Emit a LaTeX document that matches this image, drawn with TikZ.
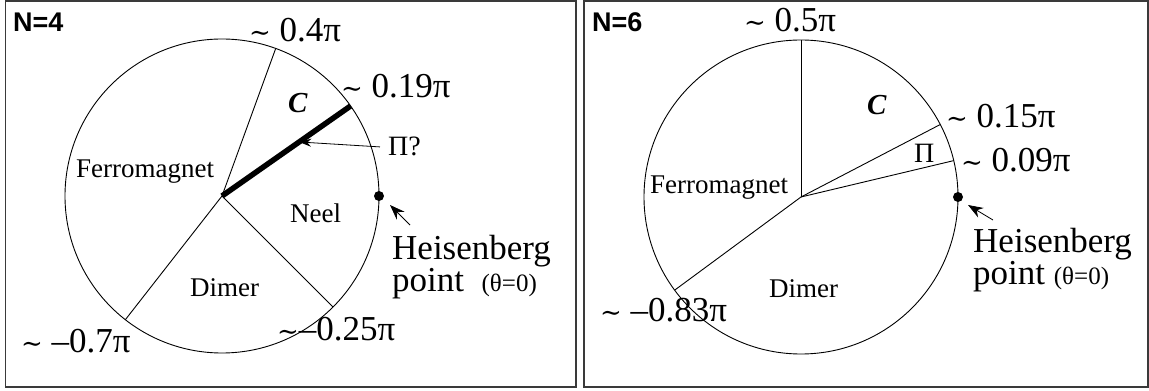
\documentclass[tikz,border=0pt]{standalone}
\usepackage{fontspec}
\setmainfont{Liberation Serif}
\newfontfamily\helvfont{Liberation Sans}
\newfontfamily\tildefont{DejaVu Serif}
\usetikzlibrary{arrows.meta, positioning, calc}
\definecolor{FrameGray}{HTML}{3A3A3A}

\tikzset{
  phaselbl/.style={font=\fontsize{27}{30}\selectfont, inner sep=0pt, anchor=base west},
  anglbl/.style={font=\fontsize{35}{38}\selectfont, inner sep=0pt, anchor=base west},
  heislbl/.style={font=\fontsize{35}{29}\selectfont, inner sep=0pt, anchor=north west, align=left},
  nlbl/.style={font=\helvfont\bfseries\fontsize{27}{28}\selectfont, inner sep=0pt, anchor=base west},
  clbl/.style={font=\bfseries\itshape\fontsize{29}{30}\selectfont, inner sep=0pt, anchor=base west},
  pointer/.style={line width=0.8pt, -{Stealth[length=15pt, width=11pt]}},
  dot/.style={circle, fill=black, inner sep=0pt, minimum size=10pt}
}
\newcommand{\tl}{{\tildefont\fontsize{26}{28}\selectfont ∼}}
\newcommand{\thz}{{\fontsize{25}{28}\selectfont(θ=0)}}

\begin{document}
\begin{tikzpicture}[x=1pt, y=1pt]
  \useasboundingbox (0,0) rectangle (1149,391);
  % frames
  \draw[FrameGray, line width=1.5pt] (5.5,4) rectangle (576,390);
  \draw[FrameGray, line width=1.5pt] (584,4) rectangle (1148,390);

  % ---- N=4 ----
  \coordinate (cL) at (222,195);
  \draw[line width=0.9pt] (cL) circle (157);
  \coordinate (pL40) at ($(cL)+(70:157)$);
  \coordinate (pL19) at ($(cL)+(35:157)$);
  \coordinate (pL25) at ($(cL)+(-45:157)$);
  \coordinate (pL70) at ($(cL)+(-128:157)$);
  \draw[line width=0.9pt] (cL) -- (pL40);
  \draw[line width=0.9pt] (cL) -- (pL25);
  \draw[line width=0.9pt] (cL) -- (pL70);
  \draw[line width=5.5pt] (cL) -- (pL19);
  \node[dot] (dotL) at ($(cL)+(0:157)$) {};

  \node[nlbl] (nL) at (13,359) {N=4};
  \node[anglbl] (aL40) at (249,349) {\tl\ 0.4π};
  \node[anglbl] (aL19) at (341,293) {\tl\ 0.19π};
  \node[anglbl] (aL70) at (21,38) {\tl\ –0.7π};
  \node[anglbl] (aL25) at (277,50) {\tl–0.25π};
  \node[clbl] (cLbl) at (288,278) {C};
  \node[phaselbl] (ferroL) at (76,213) {Ferromagnet};
  \node[phaselbl] (neelL) at (290,168) {Neel};
  \node[phaselbl] (dimerL) at (190,94) {Dimer};
  \node[phaselbl, font=\fontsize{28}{30}\selectfont] (piqL) at (388,235) {Π?};
  \node[heislbl] (heisL) at (392,156) {Heisenberg\\point\ \ \thz};

  \coordinate (piqHd) at ($(cL)!0.6!(pL19)$);
  \draw[pointer, -{Stealth[length=12pt, width=8pt]}] ([xshift=-8pt]piqL.west) -- (piqHd);
  \coordinate (tailL) at ([shift={(18pt,10pt)}]heisL.north west);
  \coordinate (headL) at ([shift={(11pt,-9pt)}]dotL.center);
  \draw[pointer] (tailL) -- (headL);

  % ---- N=6 ----
  \coordinate (cR) at (801,194);
  \draw[line width=0.9pt] (cR) circle (157);
  \coordinate (pR50) at ($(cR)+(90:157)$);
  \coordinate (pR15) at ($(cR)+(27.5:157)$);
  \coordinate (pR09) at ($(cR)+(13.4:157)$);
  \coordinate (pR83) at ($(cR)+(-143.6:157)$);
  \foreach \p in {pR50, pR15, pR09, pR83}
    \draw[line width=0.9pt] (cR) -- (\p);
  \node[dot] (dotR) at ($(cR)+(0:157)$) {};

  \node[nlbl] (nR) at (592,359) {N=6};
  \node[anglbl] (aR50) at (744,359) {\tl\ 0.5π};
  \node[anglbl] (aR15) at (946,263) {\tl\ 0.15π};
  \node[anglbl] (aR09) at (961,219) {\tl\ 0.09π};
  \node[anglbl] (aR83) at (600,69) {\tl\ –0.83π};
  \node[clbl] (cRlbl) at (867,276) {C};
  \node[phaselbl, font=\fontsize{28}{30}\selectfont] (piR) at (914,228) {Π};
  \node[phaselbl] (ferroR) at (650,197) {Ferromagnet};
  \node[phaselbl] (dimerR) at (769,93) {Dimer};
  \node[heislbl] (heisR) at (973,163) {Heisenberg\\point \thz};

  \coordinate (tailR) at ([shift={(20pt,8pt)}]heisR.north west);
  \coordinate (headR) at ([shift={(10pt,-8pt)}]dotR.center);
  \draw[pointer] (tailR) -- (headR);
\end{tikzpicture}
\end{document}
